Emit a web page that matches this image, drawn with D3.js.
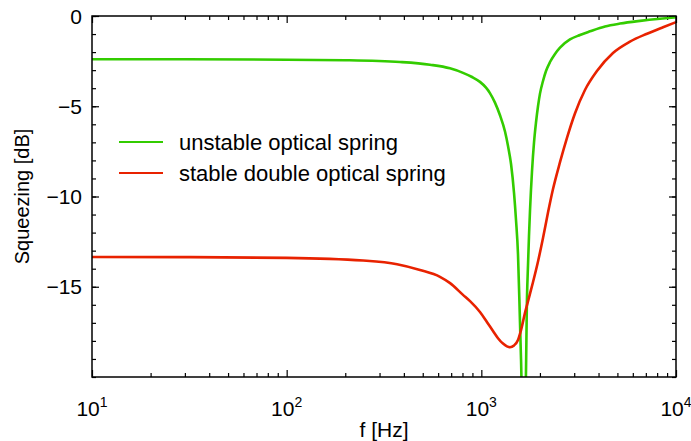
<!DOCTYPE html>
<html>
<head>
<meta charset="utf-8">
<script src="https://cdn.jsdelivr.net/npm/d3@7"></script>
<style>
  body { margin: 0; background: #fff; }
  text { font-family: "Liberation Sans", Arial, sans-serif; fill: #000; }
</style>
</head>
<body>
<svg id="chart" width="691" height="441"></svg>
<script>
// values
var greenFreq = [10, 30, 100, 200, 382, 545, 690, 805, 896, 984, 1057, 1107, 1175, 1247, 1323, 1371, 1421, 1472, 1507, 1543, 1580, 1599, 1627,
                 1686, 1717, 1737, 1757, 1778, 1821, 1865, 1909, 1955, 2001, 2074, 2149, 2253, 2390, 2536, 2853, 3212, 3615, 4317, 5156, 6535, 8276, 10000];
var greenSqz  = [-2.40, -2.40, -2.42, -2.45, -2.55, -2.7, -2.9, -3.15, -3.38, -3.65, -3.97, -4.27, -4.8, -5.5, -6.4, -7.2, -8.2, -9.8, -11.3, -13.2, -17, -19, -22,
                 -21, -15.5, -13.8, -12.2, -10.8, -8.6, -7.0, -5.9, -5.0, -4.3, -3.6, -3.05, -2.55, -2.1, -1.75, -1.3, -1.05, -0.85, -0.58, -0.42, -0.27, -0.15, -0.07];

var redFreq = [10, 30, 100, 247, 369, 484, 613, 691, 805, 875, 984, 1068, 1148, 1218, 1292, 1354, 1403, 1472, 1543, 1599, 1676, 1757, 1842,
               1955, 2074, 2199, 2333, 2536, 2754, 3026, 3407, 3925, 4746, 5801, 7102, 8578, 10000];
var redSqz  = [-13.35, -13.36, -13.4, -13.55, -13.75, -14.07, -14.45, -14.8, -15.45, -15.8, -16.4, -16.95, -17.45, -17.85, -18.15, -18.3, -18.35, -18.25, -17.95, -17.4, -16.45, -15.6, -14.75,
               -13.6, -12.3, -10.9, -9.6, -8.1, -6.75, -5.4, -4.1, -3.05, -2.05, -1.42, -0.98, -0.62, -0.34];

var seriesNames = ["unstable optical spring", "stable double optical spring"];
var seriesColors = ["#33cc00", "#e82200"];
var yTicks = [0, -5, -10, -15];
var yMinor = d3.range(-20, 1, 1);
var xDecades = [10, 100, 1000, 10000];
var xExponents = [1, 2, 3, 4];

var svg = d3.select("#chart");
var mLeft = 92, mRight = 676, mTop = 16, mBottom = 377;

var x = d3.scaleLog().domain([10, 10000]).range([mLeft, mRight]);
var y = d3.scaleLinear().domain([-20, 0]).range([mBottom, mTop]);

var xMinor = [];
xDecades.slice(0, 3).forEach(function (d) {
    for (var k = 2; k <= 9; k++) xMinor.push(d * k);
});

// ticks, all pointing inward
function tickAxis(axis, scale, values, size, transform) {
    svg.append("g")
        .attr("transform", transform)
        .call(axis(scale).tickValues(values).tickSize(size).tickFormat(""))
        .call(function (g) { g.select(".domain").remove(); })
        .selectAll("line").attr("stroke", "#000").attr("stroke-width", 1.2);
}
tickAxis(d3.axisBottom, x, xDecades, -7, "translate(0," + mBottom + ")");
tickAxis(d3.axisBottom, x, xMinor, -4, "translate(0," + mBottom + ")");
tickAxis(d3.axisTop, x, xDecades, -7, "translate(0," + mTop + ")");
tickAxis(d3.axisTop, x, xMinor, -4, "translate(0," + mTop + ")");
tickAxis(d3.axisLeft, y, yTicks, -7, "translate(" + mLeft + ",0)");
tickAxis(d3.axisLeft, y, yMinor, -4, "translate(" + mLeft + ",0)");
tickAxis(d3.axisRight, y, yTicks, -7, "translate(" + mRight + ",0)");
tickAxis(d3.axisRight, y, yMinor, -4, "translate(" + mRight + ",0)");

svg.append("defs").append("clipPath").attr("id", "plotclip")
    .append("rect").attr("x", mLeft).attr("y", mTop)
    .attr("width", mRight - mLeft).attr("height", mBottom - mTop);

var line = d3.line()
    .x(function (d) { return x(d[0]); })
    .y(function (d) { return y(d[1]); })
    .curve(d3.curveMonotoneX);

var plot = svg.append("g").attr("clip-path", "url(#plotclip)");
plot.append("path")
    .datum(d3.zip(greenFreq, greenSqz))
    .attr("d", line)
    .attr("fill", "none")
    .attr("stroke", seriesColors[0])
    .attr("stroke-width", 2.6);
plot.append("path")
    .datum(d3.zip(redFreq, redSqz))
    .attr("d", line)
    .attr("fill", "none")
    .attr("stroke", seriesColors[1])
    .attr("stroke-width", 2.6);

// frame
svg.append("rect")
    .attr("x", mLeft).attr("y", mTop)
    .attr("width", mRight - mLeft).attr("height", mBottom - mTop)
    .attr("fill", "none").attr("stroke", "#000").attr("stroke-width", 1.5);

// y tick labels
svg.append("g").selectAll("text")
    .data(yTicks).enter().append("text")
    .attr("x", mLeft - 10)
    .attr("y", function (d) { return y(d); })
    .attr("dy", "0.36em")
    .attr("text-anchor", "end")
    .style("font-size", "21px")
    .text(function (d) { return d3.format("d")(d); });

// x tick labels with superscripts
var xl = svg.append("g").selectAll("text")
    .data(xDecades).enter().append("text")
    .attr("x", function (d) { return x(d); })
    .attr("y", 416)
    .attr("text-anchor", "middle")
    .style("font-size", "21px");
xl.append("tspan").text("10");
xl.append("tspan")
    .attr("dy", -9)
    .style("font-size", "14px")
    .text(function (d, i) { return xExponents[i]; });

svg.append("text")
    .attr("x", (mLeft + mRight) / 2)
    .attr("y", 437)
    .attr("text-anchor", "middle")
    .style("font-size", "21px")
    .text("f [Hz]");

svg.append("text")
    .attr("transform", "translate(29," + ((mTop + mBottom) / 2) + ") rotate(-90)")
    .attr("text-anchor", "middle")
    .style("font-size", "20px")
    .text("Squeezing [dB]");

// legend
var legend = svg.append("g").selectAll("g")
    .data(seriesNames).enter().append("g")
    .attr("transform", function (d, i) { return "translate(119," + (142 + i * 31) + ")"; });
legend.append("line")
    .attr("x1", 0).attr("x2", 44)
    .attr("stroke", function (d, i) { return seriesColors[i]; })
    .attr("stroke-width", 2);
legend.append("text")
    .attr("x", 60)
    .attr("dy", "0.35em")
    .style("font-size", "22px")
    .text(function (d) { return d; });
</script>
</body>
</html>
